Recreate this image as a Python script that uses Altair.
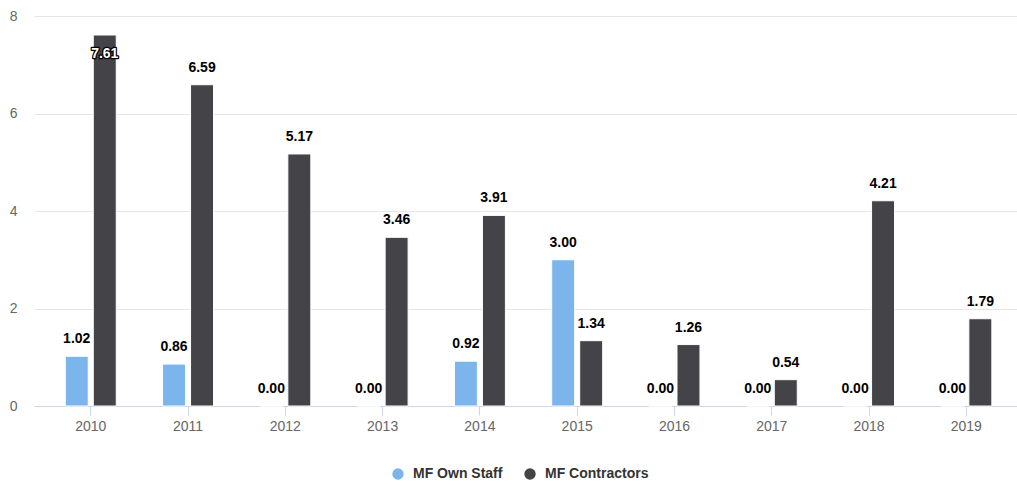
import altair as alt
import pandas as pd

years = ["2010", "2011", "2012", "2013", "2014", "2015", "2016", "2017", "2018", "2019"]
series_names = ["MF Own Staff", "MF Contractors"]
own_staff = [1.02, 0.86, 0.00, 0.00, 0.92, 3.00, 0.00, 0.00, 0.00, 0.00]
contractors = [7.61, 6.59, 5.17, 3.46, 3.91, 1.34, 1.26, 0.54, 4.21, 1.79]
colors = ["#7cb5ec", "#434348"]
y_ticks = [0, 2, 4, 6, 8]

rows = []
for i, y in enumerate(years):
    rows.append({"year": y, "series": series_names[0], "value": own_staff[i]})
    rows.append({"year": y, "series": series_names[1], "value": contractors[i]})
df = pd.DataFrame(rows)

FONT = "Liberation Sans, Arial, sans-serif"

x_enc = alt.X("year:N", sort=years,
              scale=alt.Scale(paddingInner=0.476, paddingOuter=0.29, align=0.554),
              axis=alt.Axis(title=None, labelAngle=0, labelFont=FONT, labelFontSize=14,
                            labelColor="#666666", domainColor="#ccd6eb", tickColor="#ccd6eb",
                            tickSize=9, labelPadding=4, grid=False))
xoff = alt.XOffset("series:N", sort=series_names,
                   scale=alt.Scale(paddingInner=0.18, paddingOuter=0))
y_enc = alt.Y("value:Q", scale=alt.Scale(domain=[0, 8], nice=False),
              axis=alt.Axis(title=None, values=y_ticks, labelFont=FONT, labelFontSize=14,
                            labelColor="#666666", domain=False, ticks=False, labelPadding=17,
                            gridColor="#e6e6e6", format="d"))
color_enc = alt.Color("series:N", sort=series_names,
                      scale=alt.Scale(domain=series_names, range=colors),
                      legend=alt.Legend(title=None, orient="none", direction="horizontal",
                                        legendX=357, legendY=451, symbolType="circle",
                                        symbolSize=130, symbolStrokeWidth=0,
                                        labelFont=FONT, labelFontSize=14, labelFontWeight="bold",
                                        labelColor="#333333", columnPadding=20, labelOffset=8,
                                        padding=0))

base = alt.Chart(df)

bars = base.mark_bar(stroke="white", strokeWidth=1).encode(
    x=x_enc, xOffset=xoff, y=y_enc, color=color_enc
)

def labels(filter_expr, dy, fill, outline=None):
    kw = dict(fontSize=14, fontWeight="bold", font=FONT, baseline="middle", align="center", dy=dy)
    if outline:
        kw.update(stroke=outline, strokeWidth=2.5, strokeJoin="round", color=outline)
    else:
        kw.update(color=fill)
    return base.transform_filter(filter_expr).mark_text(**kw).encode(
        x=alt.X("year:N", sort=years), xOffset=alt.XOffset("series:N", sort=series_names),
        y=alt.Y("value:Q"), text=alt.Text("value:Q", format=".2f")
    )

above = "datum.value <= 7.2"
inside = "datum.value > 7.2"
layers = [bars,
          labels(above, -17, "#000000", "white"), labels(above, -17, "#000000"),
          labels(inside, 19, "white", "#000000"), labels(inside, 19, "white")]

chart = alt.layer(*layers).properties(
    width=983, height=390,
    background="white",
    autosize=alt.AutoSizeParams(type="none"),
    padding={"left": 34, "top": 16, "right": 0, "bottom": 81},
).configure_view(strokeWidth=0, stroke="transparent").configure_axisY(
    domain=False, ticks=False
).configure_axisX(grid=False)

chart.save("out.html", embed_options={"renderer": "svg", "actions": False})
